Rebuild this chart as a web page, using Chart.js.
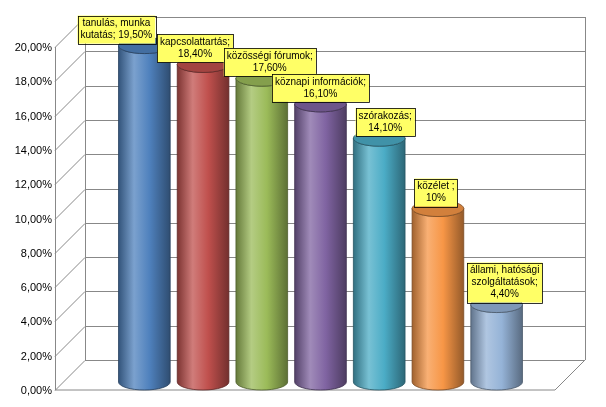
<!DOCTYPE html>
<html><head><meta charset="utf-8">
<script src="https://cdn.jsdelivr.net/npm/chart.js@4/dist/chart.umd.min.js"></script>
<style>html,body{margin:0;background:#fff}#wrap{width:606px;height:407px}</style>
</head><body><div id="wrap"><canvas id="c"></canvas></div>
<script>
const categories = ["tanulás, munka kutatás", "kapcsolattartás", "közösségi fórumok", "köznapi információk", "szórakozás", "közélet", "állami, hatósági szolgáltatások"];
const values = [19.5, 18.4, 17.6, 16.1, 14.1, 10, 4.4];
const labelLines = [
  ["tanulás, munka", "kutatás; 19,50%"],
  ["kapcsolattartás;", "18,40%"],
  ["közösségi fórumok;", "17,60%"],
  ["köznapi információk;", "16,10%"],
  ["szórakozás;", "14,10%"],
  ["közélet ;", "10%"],
  ["állami, hatósági", "szolgáltatások;", "4,40%"]
];
const yTicks = [0, 2, 4, 6, 8, 10, 12, 14, 16, 18, 20];
const colors = ["#4F81BD", "#C0504D", "#9BBB59", "#8064A2", "#4BACC6", "#F79646", "#95B3D7"];

function shade(hex, f) {
  const n = parseInt(hex.slice(1), 16);
  let r = n >> 16, g = (n >> 8) & 255, b = n & 255;
  const m = v => Math.round(f < 0 ? v * (1 + f) : v + (255 - v) * f);
  return `rgb(${m(r)},${m(g)},${m(b)})`;
}

// 3D wall, floor, grid and y labels
const backdrop = {
  id: "backdrop",
  beforeDatasetsDraw(chart) {
    const { ctx } = chart;
    const y = chart.scales.y;
    const fx = 55, dx = 30, dy = 30, rx = 585;
    ctx.save();
    ctx.strokeStyle = "#888";
    ctx.lineWidth = 1;
    yTicks.forEach(t => {
      const py = Math.round(y.getPixelForValue(t)) + 0.5;
      ctx.beginPath();
      ctx.moveTo(fx, py);
      ctx.lineTo(fx + dx, py - dy);
      ctx.lineTo(rx, py - dy);
      ctx.stroke();
      ctx.fillStyle = "#000";
      ctx.font = "11px 'Liberation Sans', Arial";
      ctx.textAlign = "right";
      ctx.textBaseline = "middle";
      ctx.fillText(t.toFixed(2).replace(".", ",") + "%", fx - 3, py);
    });
    const top = y.getPixelForValue(20), bot = y.getPixelForValue(0);
    ctx.beginPath();
    ctx.moveTo(fx + 0.5, bot); ctx.lineTo(fx + 0.5, top);
    ctx.moveTo(fx + dx + 0.5, bot - dy); ctx.lineTo(fx + dx + 0.5, top - dy);
    ctx.moveTo(rx + 0.5, bot - dy); ctx.lineTo(rx + 0.5, top - dy);
    ctx.moveTo(rx, bot - dy); ctx.lineTo(rx - dx, bot); ctx.lineTo(fx, bot);
    ctx.stroke();
    ctx.restore();
  },
  afterDatasetsDraw(chart) {
    const { ctx } = chart;
    const meta = chart.getDatasetMeta(0);
    const y0 = chart.scales.y.getPixelForValue(0) - 8;
    ctx.save();
    meta.data.forEach((bar, i) => {
      const c = colors[i], w = bar.width, x = bar.x - w / 2, ry = 8;
      const top = bar.y - 10;
      const g = ctx.createLinearGradient(x, 0, x + w, 0);
      g.addColorStop(0, shade(c, -0.35));
      g.addColorStop(0.3, shade(c, 0.25));
      g.addColorStop(0.6, c);
      g.addColorStop(1, shade(c, -0.4));
      ctx.fillStyle = g;
      ctx.strokeStyle = shade(c, -0.5);
      ctx.lineWidth = 0.8;
      ctx.beginPath();
      ctx.moveTo(x, top);
      ctx.lineTo(x, y0);
      ctx.ellipse(bar.x, y0, w / 2, ry, 0, Math.PI, 0, true);
      ctx.lineTo(x + w, top);
      ctx.ellipse(bar.x, top, w / 2, ry, 0, 0, Math.PI, false);
      ctx.fill();
      ctx.stroke();
      ctx.fillStyle = shade(c, -0.15);
      ctx.beginPath();
      ctx.ellipse(bar.x, top, w / 2, ry, 0, 0, Math.PI * 2);
      ctx.fill();
      ctx.stroke();
    });
    // data labels
    ctx.font = "10px 'Liberation Sans', Arial";
    ctx.textAlign = "center";
    ctx.textBaseline = "top";
    const shifts = [-28, -8, 8, 0, 6, -2, 8];
    meta.data.forEach((bar, i) => {
      const lines = labelLines[i];
      const tw = Math.max(...lines.map(l => ctx.measureText(l).width)) + 6;
      const th = lines.length * 12 + 4;
      const bx = bar.x - tw / 2 + shifts[i];
      const by = bar.y - 12 - th;
      ctx.fillStyle = "#FFFF66";
      ctx.fillRect(bx, by, tw, th);
      ctx.strokeStyle = "#000";
      ctx.lineWidth = 0.8;
      ctx.strokeRect(Math.round(bx) + 0.5, Math.round(by) + 0.5, Math.round(tw), Math.round(th));
      ctx.fillStyle = "#000";
      lines.forEach((l, k) => ctx.fillText(l, bx + tw / 2, by + 3 + k * 12));
    });
    ctx.restore();
  }
};

new Chart(document.getElementById("c"), {
  type: "bar",
  data: {
    labels: categories,
    datasets: [{ data: values, backgroundColor: "rgba(0,0,0,0)", barPercentage: 0.88, categoryPercentage: 1 }]
  },
  options: {
    responsive: true,
    maintainAspectRatio: false,
    animation: false,
    layout: { padding: { left: 115, right: 80, top: 47, bottom: 17 } },
    plugins: { legend: { display: false }, tooltip: { enabled: false } },
    scales: {
      x: { display: false },
      y: { display: false, min: 0, max: 20 }
    }
  },
  plugins: [backdrop]
});
</script></body></html>
